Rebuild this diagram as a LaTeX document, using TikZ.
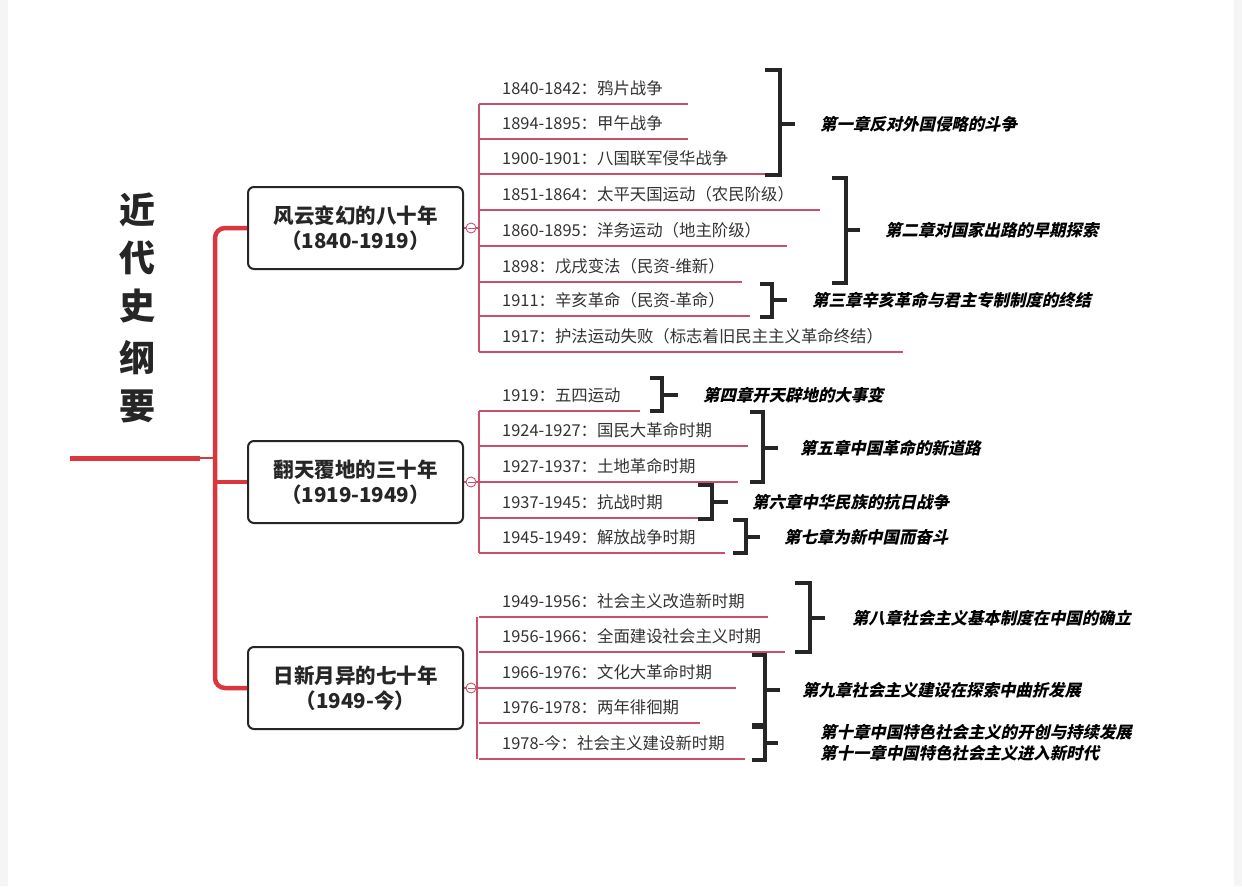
\documentclass[tikz,border=0pt]{standalone}
\usepackage{fontspec}
\setmainfont{Noto Sans CJK SC}
\newfontfamily\cjkbi{Noto Sans CJK SC}[FakeSlant=0.22]
\definecolor{rd}{HTML}{D9363E}
\definecolor{pk}{HTML}{C8506A}
\definecolor{tx}{HTML}{333333}
\tikzset{
 itm/.style={anchor=west,font=\fontsize{16.4}{18}\selectfont,text=tx,inner sep=0pt},
 ul/.style={pk,line width=1.2pt},
 brk/.style={line width=3.6pt,black!85},
 lab/.style={anchor=west,font=\cjkbi\bfseries\fontsize{16.4}{21}\selectfont,inner sep=0pt,align=left},
 topic/.style={draw=black!85,line width=2pt,rounded corners=6pt,minimum width=215pt,minimum height=82pt,font=\bfseries\fontsize{20.5}{25}\selectfont,align=center,text=black!85},
}
\begin{document}
\begin{tikzpicture}[x=1pt,y=-1pt]
\fill[gray!8] (0,0) rectangle (1242,886);
\fill[white] (8,0) rectangle (1234,886);
\useasboundingbox (0,0) rectangle (1242,886);
% title
\foreach \c/\y in {近/210,代/258,史/306,纲/358,要/406}
  \node[font=\bfseries\fontsize{36}{36}\selectfont,text=black!85] (t\y) at (137,\y) {\c};
% trunk
\coordinate (h0) at (70,458); \coordinate (h1) at (215,458);
\draw[rd,line width=5pt] (h0) -- (200,458);
\draw[rd,line width=2pt] (200,458) -- (h1);
\node[topic] (b1) at (355.5,228) {风云变幻的八十年\\（1840-1919）};
\node[topic] (b2) at (355.5,482) {翻天覆地的三十年\\（1919-1949）};
\node[topic] (b3) at (355.5,688) {日新月异的七十年\\（1949-今）};
\draw[rd,line width=4.5pt,rounded corners=10pt] (b1.west) -- (215,228) -- (215,688) -- (b3.west);
\draw[rd,line width=4.5pt] (215,482) -- (b2.west);
% circles
\foreach \b/\y in {b1/228,b2/482,b3/688}{
  \node[circle,draw=pk,line width=0.9pt,fill=white,minimum size=10pt,inner sep=0pt] (c\y) at (471,\y) {};
  \draw[pk,line width=0.8pt] (467.5,\y) -- (474.5,\y);
  \draw[pk,line width=1.2pt] (\b.east) -- (c\y.west);
  \draw[ul] (c\y.east) -- (479,\y);
}
\foreach \t/\y/\e in {
 {1840-1842：鸦片战争}/88/688,
 {1894-1895：甲午战争}/123/688,
 {1900-1901：八国联军侵华战争}/158/772,
 {1851-1864：太平天国运动（农民阶级）}/194/820,
 {1860-1895：洋务运动（地主阶级）}/230/787,
 {1898：戊戌变法（民资-维新）}/266/742,
 {1911：辛亥革命（民资-革命）}/300/750,
 {1917：护法运动失败（标志着旧民主主义革命终结）}/336/903,
 {1919：五四运动}/395/640,
 {1924-1927：国民大革命时期}/430/748,
 {1927-1937：土地革命时期}/466/738,
 {1937-1945：抗战时期}/502/700,
 {1945-1949：解放战争时期}/537/725,
 {1949-1956：社会主义改造新时期}/601/768,
 {1956-1966：全面建设社会主义时期}/636/785,
 {1966-1976：文化大革命时期}/672/736,
 {1976-1978：两年徘徊期}/707/700,
 {1978-今：社会主义建设新时期}/743/745}{
  \node[itm] (i\y) at (502,\y) {\t};
  \draw[ul] (479,\y+16) -- (\e,\y+16);
}
\draw[ul] (479,104) -- (479,352);
\draw[ul] (479,411) -- (479,553);
\draw[ul] (477,617) -- (477,759);
\foreach \xa/\xb/\ya/\yb/\ym/\xm/\lx/\t in {
 765/780/70/175/124/795/820/{第一章反对外国侵略的斗争},
 832/846/178/283/230/860/885/{第二章对国家出路的早期探索},
 760/772/284/317/300/787/812/{第三章辛亥革命与君主专制制度的终结},
 650/662/378/411/395/678/703/{第四章开天辟地的大事变},
 750/763/412/482/448/778/800/{第五章中国革命的新道路},
 698/712/485/519/502/728/752/{第六章中华民族的抗日战争},
 733/746/520/553/537/760/784/{第七章为新中国而奋斗},
 795/810/583/652/618/825/852/{第八章社会主义基本制度在中国的确立},
 752/765/655/725/690/780/802/{第九章社会主义建设在探索中曲折发展},
 752/765/727/760/743/778/820/{第十章中国特色社会主义的开创与持续发展\\第十一章中国特色社会主义进入新时代}}{
  \draw[brk,line cap=butt] (\xa,\ya) -- (\xb,\ya) -- (\xb,\yb) -- (\xa,\yb);
  \draw[brk] (\xb,\ym) -- (\xm,\ym);
  \node[lab] (l\ym) at (\lx,\ym) {\t};
}
\end{tikzpicture}
\end{document}
